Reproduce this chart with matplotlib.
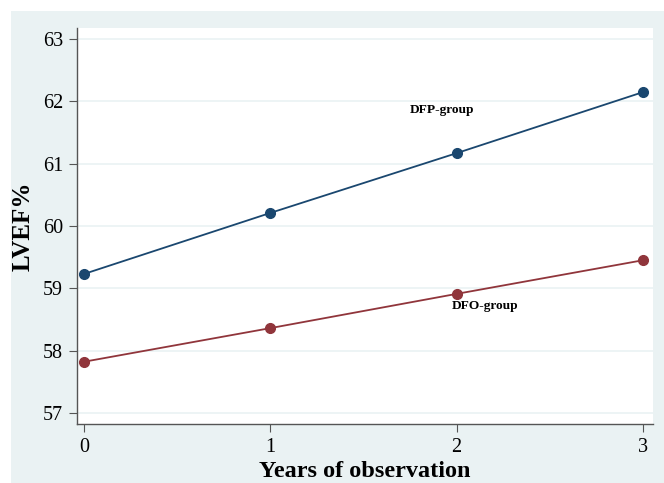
import matplotlib
matplotlib.use('Agg')
import matplotlib.pyplot as plt
from matplotlib.patches import Rectangle

# years of observation and LVEF values per group
years = [0, 1, 2, 3]
dfp_values = [59.23, 60.21, 61.17, 62.15]
dfo_values = [57.82, 58.36, 58.91, 59.45]
y_ticks = [57, 58, 59, 60, 61, 62, 63]

background = '#eaf2f3'
blue = '#1a476f'
red = '#90353b'

plt.rcParams['font.family'] = ['Liberation Serif', 'DejaVu Serif']

figure = plt.figure(figsize=(6.64, 4.83), dpi=100)
W, H = 664, 483
figure.patches.append(Rectangle((11 / W, 0), 1 - 11 / W, 1 - 11 / H,
                                transform=figure.transFigure, facecolor=background,
                                edgecolor='none', zorder=-10))
axes = figure.add_axes([77 / W, 1 - 424 / H, (653 - 77) / W, (424 - 28) / H])
axes.set_facecolor('white')

axes.plot(years, dfp_values, color=blue, linewidth=1.3, marker='o', markersize=7, zorder=3)
axes.plot(years, dfo_values, color=red, linewidth=1.3, marker='o', markersize=7, zorder=3)
axes.text(1.92, 61.86, 'DFP-group', fontsize=9.6, fontweight='bold', ha='center', va='center')
axes.text(2.15, 58.71, 'DFO-group', fontsize=9.6, fontweight='bold', ha='center', va='center')

axes.set_xlim(-0.038, 3.054)
axes.set_ylim(56.82, 63.18)
axes.set_xticks(years)
axes.set_yticks(y_ticks)
axes.grid(True, axis='y', color=background, linewidth=1.2)
axes.set_axisbelow(True)
for side in ('top', 'right'):
    axes.spines[side].set_visible(False)
for side in ('left', 'bottom'):
    axes.spines[side].set_color('#555555')
    axes.spines[side].set_linewidth(1.0)
axes.tick_params(direction='out', length=6, width=0.8, color='#555555', labelsize=14.5, pad=4)
axes.set_xlabel('Years of observation', fontsize=17.5, fontweight='bold', labelpad=3)
axes.set_ylabel('LVEF%', fontsize=18, fontweight='bold', labelpad=6)

figure.savefig('out.png', dpi=100, facecolor='white')
